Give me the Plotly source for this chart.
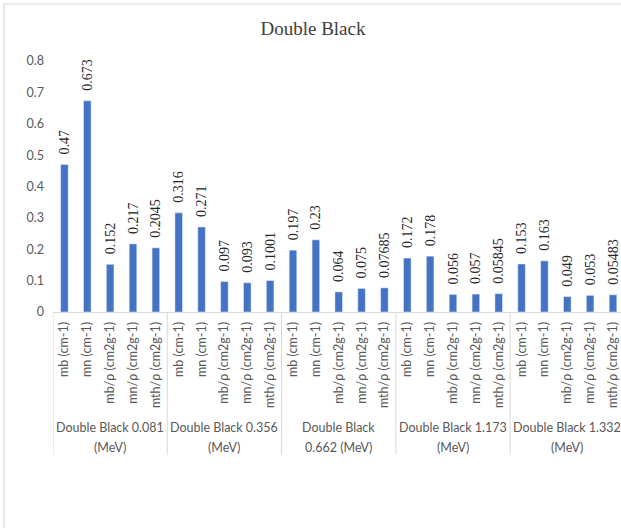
import plotly.graph_objects as go

# Energy groups and measured quantities
groups = [
    "Double Black 0.081<br>(MeV)",
    "Double Black 0.356<br>(MeV)",
    "Double Black<br>0.662 (MeV)",
    "Double Black 1.173<br>(MeV)",
    "Double Black 1.332<br>(MeV)",
]
quantities = ["mb (cm-1)", "mn (cm-1)", "mb/ρ (cm2g-1)", "mn/ρ (cm2g-1)", "mth/ρ (cm2g-1)"]

g_0081 = [0.47, 0.673, 0.152, 0.217, 0.2045]
g_0356 = [0.316, 0.271, 0.097, 0.093, 0.1001]
g_0662 = [0.197, 0.23, 0.064, 0.075, 0.07685]
g_1173 = [0.172, 0.178, 0.056, 0.057, 0.05845]
g_1332 = [0.153, 0.163, 0.049, 0.053, 0.05483]

y_ticks = [0, 0.1, 0.2, 0.3, 0.4, 0.5, 0.6, 0.7, 0.8]

series = [g_0081, g_0356, g_0662, g_1173, g_1332]
values = [v for s in series for v in s]
labels = [q for _ in groups for q in quantities]
xpos = list(range(len(values)))
n = len(quantities)

GRAY = "#595959"
LINE = "#d9d9d9"

fig = go.Figure(
    go.Bar(
        x=xpos,
        y=values,
        width=0.33,
        marker_color="#4472C4",
        text=[str(v) for v in values],
        texttemplate="\u2002%{text}",
        textposition="outside",
        textangle=-90,
        constraintext="none",
        textfont=dict(family="Liberation Serif", size=14, color="#262626"),
        cliponaxis=False,
        hoverinfo="skip",
    )
)

# Group captions under the rotated quantity labels (one annotation per line
# so the line spacing can be set explicitly)
line_y = [-0.462, -0.538]
for gi, g in enumerate(groups):
    for li, part in enumerate(g.split("<br>")):
        fig.add_annotation(
            x=gi * n + (n - 1) / 2, y=line_y[li], xref="x", yref="paper",
            text=part, showarrow=False, yanchor="middle", align="center",
            font=dict(family="Lato", size=12.5, color=GRAY),
        )

# Dividers between groups
for gi in range(len(groups) + 1):
    fig.add_shape(
        type="line", xref="x", yref="paper",
        x0=gi * n - 0.5, x1=gi * n - 0.5, y0=0, y1=-0.57,
        line=dict(color=LINE, width=1),
    )

# Chart-area frame
fig.add_shape(
    type="rect", xref="paper", yref="paper",
    x0=-0.0863, x1=1.05, y0=-0.88, y1=1.227,
    line=dict(color="#e3e3e3", width=1.5), layer="below",
)

fig.update_layout(
    width=621,
    height=528,
    margin=dict(l=53, r=0, t=61, b=216),
    paper_bgcolor="white",
    plot_bgcolor="white",
    showlegend=False,
    title=dict(
        text="Double Black", x=0.504, xref="container", xanchor="center",
        y=0.947, yref="container", yanchor="middle",
        font=dict(family="Liberation Serif", size=19, color="#404040"),
    ),
    xaxis=dict(
        range=[-0.5, 24.35],
        tickmode="array",
        tickvals=xpos,
        ticktext=labels,
        tickangle=-90,
        tickfont=dict(family="Lato", size=12.5, color=GRAY),
        ticklabelstandoff=4,
        showgrid=False,
        zeroline=False,
        showline=True,
        linecolor=LINE,
        ticks="",
        fixedrange=True,
    ),
    yaxis=dict(
        range=[0, 0.8],
        tickmode="array",
        tickvals=y_ticks,
        ticktext=[f"{t:g}" for t in y_ticks],
        tickfont=dict(family="Lato", size=12.5, color=GRAY),
        showgrid=False,
        zeroline=False,
        showline=False,
        ticks="",
        ticklabelstandoff=8,
        fixedrange=True,
    ),
)

fig.write_html("out.html")
